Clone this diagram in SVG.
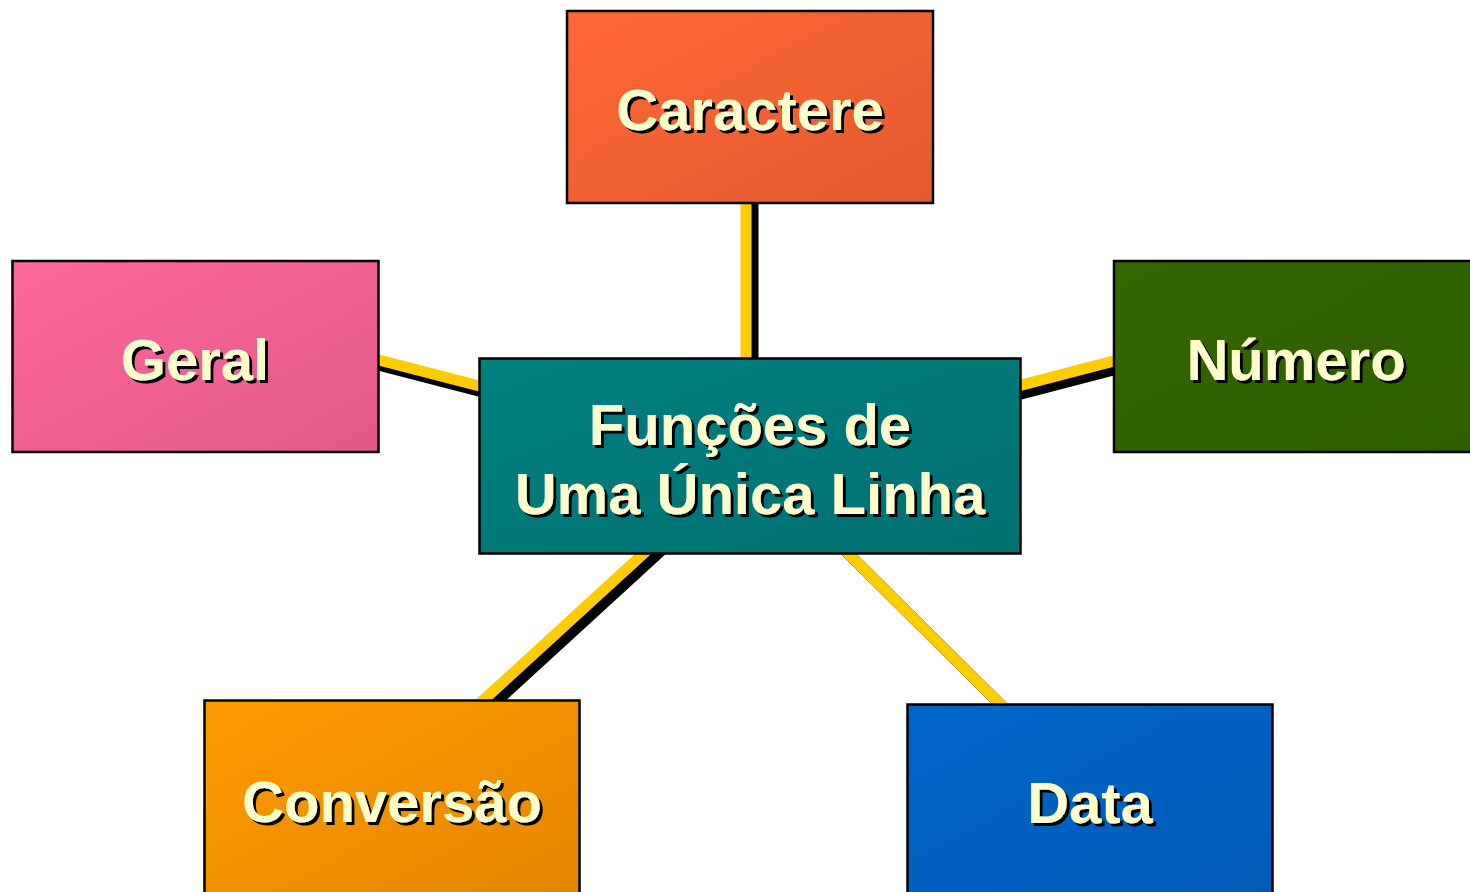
<svg xmlns="http://www.w3.org/2000/svg" width="1470" height="892" viewBox="0 0 1470 892">
<style>
.box{stroke:#000;stroke-width:2.5}
.t{font-family:"Liberation Sans",Arial,sans-serif;font-weight:bold;font-size:58px;text-anchor:middle;fill:#FFFFCC;filter:url(#ds)}
.ln{stroke:#FFCC00;stroke-width:11;fill:none}
.lns{stroke:#000;stroke-width:11;fill:none}
</style>
<defs>
<filter id="ds" x="-10%" y="-20%" width="130%" height="150%">
<feOffset in="SourceAlpha" dx="3" dy="3" result="o"/>
<feFlood flood-color="#000"/>
<feComposite in2="o" operator="in" result="s"/>
<feMerge><feMergeNode in="s"/><feMergeNode in="SourceGraphic"/></feMerge>
</filter>
<linearGradient id="gC" x1="0" y1="0" x2="1" y2="1"><stop offset="0" stop-color="#FF6835"/><stop offset="1" stop-color="#E35A30"/></linearGradient>
<linearGradient id="gG" x1="0" y1="0" x2="1" y2="1"><stop offset="0" stop-color="#FF679C"/><stop offset="1" stop-color="#E05A86"/></linearGradient>
<linearGradient id="gN" x1="0" y1="0" x2="1" y2="1"><stop offset="0" stop-color="#336600"/><stop offset="1" stop-color="#2E5E00"/></linearGradient>
<linearGradient id="gM" x1="0" y1="0" x2="1" y2="1"><stop offset="0" stop-color="#008080"/><stop offset="1" stop-color="#007070"/></linearGradient>
<linearGradient id="gV" x1="0" y1="0" x2="1" y2="1"><stop offset="0" stop-color="#FF9A00"/><stop offset="1" stop-color="#E38700"/></linearGradient>
<linearGradient id="gD" x1="0" y1="0" x2="1" y2="1"><stop offset="0" stop-color="#0066CC"/><stop offset="1" stop-color="#005BB5"/></linearGradient>
</defs>
<rect width="1470" height="892" fill="#fff"/>
<g id="connectors">
<g transform="translate(7,7)">
<line class="lns" x1="746" y1="456" x2="746" y2="195"/>
<line class="lns" x1="750" y1="456" x2="370" y2="357.7"/>
<line class="lns" x1="750" y1="456" x2="1120" y2="359.4"/>
<line class="lns" x1="750" y1="456" x2="477" y2="706"/>
<line class="lns" x1="750" y1="456" x2="1006" y2="710"/>
</g>
<line class="ln" x1="746" y1="456" x2="746" y2="195"/>
<line class="ln" x1="750" y1="456" x2="370" y2="357.7"/>
<line class="ln" x1="750" y1="456" x2="1120" y2="359.4"/>
<line class="ln" x1="750" y1="456" x2="477" y2="706"/>
<line class="ln" x1="750" y1="456" x2="1006" y2="710"/>
</g>
<g id="caractere">
<rect class="box" x="567" y="11" width="366" height="192" fill="url(#gC)"/>
<text class="t" x="750" y="130">Caractere</text>
</g>
<g id="geral">
<rect class="box" x="12.5" y="261" width="366" height="191" fill="url(#gG)"/>
<text class="t" x="195" y="380">Geral</text>
</g>
<g id="numero">
<rect class="box" x="1114" y="261" width="366" height="191" fill="url(#gN)"/>
<text class="t" x="1296" y="380">Número</text>
</g>
<g id="funcoes">
<rect class="box" x="479.5" y="358.5" width="541" height="195" fill="url(#gM)"/>
<text class="t" x="750" y="445">Funções de</text>
<text class="t" x="750" y="514">Uma Única Linha</text>
</g>
<g id="conversao">
<rect class="box" x="204.5" y="700.5" width="375" height="200" fill="url(#gV)"/>
<text class="t" x="392" y="822">Conversão</text>
</g>
<g id="data">
<rect class="box" x="907.5" y="704.5" width="365" height="200" fill="url(#gD)"/>
<text class="t" x="1090" y="823">Data</text>
</g>
</svg>
